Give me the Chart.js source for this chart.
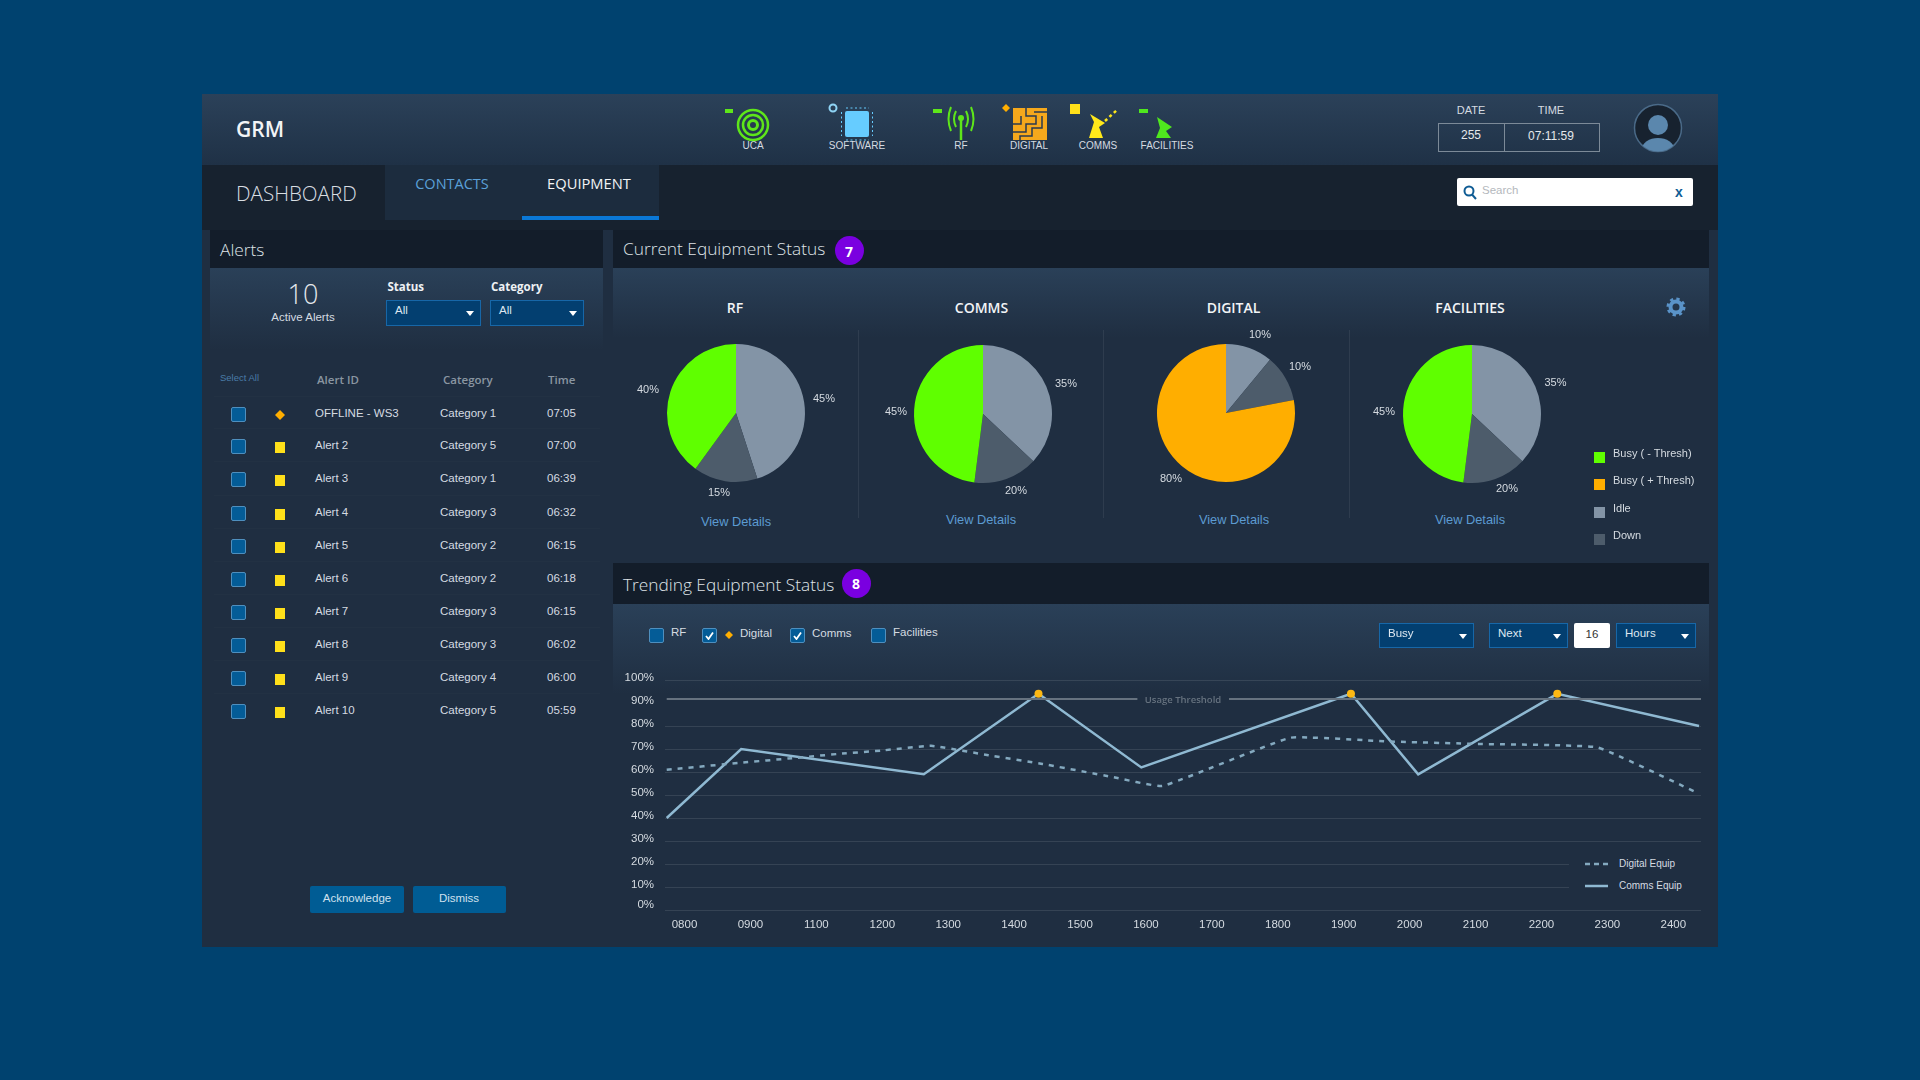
<!DOCTYPE html>
<html>
<head>
<meta charset="utf-8">
<title>GRM Dashboard</title>
<script src="https://cdn.jsdelivr.net/npm/chart.js@4"></script>
<style>
 html, body { margin: 0; width: 1920px; height: 1080px; overflow: hidden; background: #00426f; }
 #stage { position: absolute; left: 0; top: 0; width: 1920px; height: 1080px; font-family: "Liberation Sans", sans-serif; color: #d5dbe1; }
 #stage div, #stage canvas, #stage svg { position: absolute; }
 .t { white-space: nowrap; }
</style>
</head>
<body>
<div id="stage"></div>
<script>
 //Pies, share of each wedge as drawn, clockwise from the top
 const pieNames = ["RF", "COMMS", "DIGITAL", "FACILITIES"];
 const rfSlices = [45, 15, 40];
 const commsSlices = [37, 15, 48];
 const digitalSlices = [11, 11, 78];
 const facilitiesSlices = [37, 15, 48];
 // what the picture prints next to them (not the same as the wedges)
 const rfLabels = ["45%", "15%", "40%"];
 const commsLabels = ["35%", "20%", "45%"];
 const digitalLabels = ["10%", "10%", "80%"];
 const facilitiesLabels = ["35%", "20%", "45%"];
 const legendNames = ["Busy ( - Thresh)", "Busy ( + Thresh)", "Idle", "Down"];

 //Trend, hours are positions on the tick list below
 const hourLabels = ["0800", "0900", "1100", "1200", "1300", "1400", "1500", "1600", "1700", "1800", "1900", "2000", "2100", "2200", "2300", "2400"];
 const commsHours = [-0.27, 0.86, 3.63, 5.37, 6.93, 10.11, 11.13, 13.24, 15.39];
 const commsValues = [40, 70, 59, 94, 62, 94, 59, 94, 80];
 const digitalHours = [-0.27, 0.85, 1.63, 2.39, 2.98, 3.74, 4.61, 5.43, 6.46, 7.25, 9.19, 10.65, 12.03, 13.85, 15.33];
 const digitalValues = [61, 64, 66, 68, 69.3, 71.4, 67.3, 63.5, 58, 53.9, 74.9, 73.3, 72.2, 70.7, 51.4];
 const thresholdHours = [-0.27, 6.87, 6.88, 8.26, 15.42];
 const thresholdValues = [91.7, 91.7, null, 91.7, 91.7];

 //Alerts table
 const alertIds = ["OFFLINE - WS3", "Alert 2", "Alert 3", "Alert 4", "Alert 5", "Alert 6", "Alert 7", "Alert 8", "Alert 9", "Alert 10"];
 const alertCategories = ["Category 1", "Category 5", "Category 1", "Category 3", "Category 2", "Category 2", "Category 3", "Category 3", "Category 4", "Category 5"];
 const alertTimes = ["07:05", "07:00", "06:39", "06:32", "06:15", "06:18", "06:15", "06:02", "06:00", "05:59"];

 const GREY = "#8394a6", DARK = "#4d5c6b", GREEN = "#5fff00", ORANGE = "#ffae00";
 const OPEN = '"Open Sans", sans-serif';
 const stage = document.getElementById("stage");

 function box(x1, y1, x2, y2, css) {
     const d = document.createElement("div");
     d.style.cssText = `left:${x1}px;top:${y1}px;width:${x2 - x1}px;height:${y2 - y1}px;box-sizing:border-box;` + (css || "");
     stage.appendChild(d);
     return d;
 }
 // y is the middle of the text, anchor 0 = left, .5 = centre
 function put(txt, x, y, size, color, anchor, css) {
     const d = document.createElement("div");
     d.className = "t";
     d.textContent = txt;
     d.style.cssText = `left:${x}px;top:${y}px;font-size:${size}px;color:${color};transform:translate(${-(anchor || 0) * 100}%,-50%);` + (css || "");
     stage.appendChild(d);
     return d;
 }
 function svg(x, y, w, h, inner) {
     const wrap = document.createElement("div");
     wrap.style.cssText = `left:${x}px;top:${y}px;width:${w}px;height:${h}px;`;
     wrap.innerHTML = `<svg width="${w}" height="${h}" viewBox="0 0 ${w} ${h}" style="left:0;top:0">${inner}</svg>`;
     stage.appendChild(wrap);
 }
 function dropdown(x1, y1, x2, y2, txt, arrowX) {
     box(x1, y1, x2, y2, "background:#033f70;border:1px solid #1767a8;");
     put(txt, x1 + 9, y1 + 10, 11.5, "#dfe8f0");
     svg(arrowX - 4, y1 + 11, 8, 5, '<path d="M0 0H8L4 5Z" fill="#fff"/>');
 }
 function checkbox(x, y, checked) {
     box(x, y, x + 15, y + 15, "background:#045c97;border:1px solid #4f8fbe;border-radius:2px;");
     if (checked) svg(x + 3, y + 3, 9, 9, '<path d="M1 5L3.5 8L8 1.5" stroke="#fff" stroke-width="1.8" fill="none"/>');
 }
 const diamond = (cx, cy, r, c) => svg(cx - r, cy - r, 2 * r, 2 * r, `<path d="M${r} 0L${2 * r} ${r}L${r} ${2 * r}L0 ${r}Z" fill="${c}"/>`);

 // ---- frame ----
 box(202, 94, 1718, 947, "background:#1f2e41;");
 box(202, 94, 1718, 165, "background:linear-gradient(#2b4159,#1f3146);");
 box(202, 165, 1718, 230, "background:#17222f;");
 box(385, 165, 659, 220, "background:#1c2c3e;");
 box(522, 216, 659, 220, "background:#0a78d6;");
 put("GRM", 236, 129, 21, "#f2f4f6", 0, `font-family:${OPEN};font-weight:600;`);
 put("DASHBOARD", 236, 193, 20.6, "#d9dee3", 0, `font-family:${OPEN};font-weight:300;`);
 put("CONTACTS", 452, 182.500, 14.5, "#5ba0d8", .5, `font-family:${OPEN};`);
 put("EQUIPMENT", 589, 182.500, 14.7, "#f2f4f6", .5, `font-family:${OPEN};`);

 // ---- status icons ----
 const iconNames = ["UCA", "SOFTWARE", "RF", "DIGITAL", "COMMS", "FACILITIES"];
 const iconX = [753, 857, 961, 1029, 1098, 1167];
 iconNames.forEach((n, i) => put(n, iconX[i], 145, 10, "#d5dbe1", .5));
 svg(735, 106, 36, 36, '<g fill="none" stroke="#5ee61a"><circle cx="18" cy="19" r="15" stroke-width="2.5"/><circle cx="18" cy="19" r="10" stroke-width="2.5"/><circle cx="18" cy="19" r="4.5" stroke-width="3"/></g>');
 box(725, 109, 733, 113, "background:#5ee61a;");
 svg(840, 106, 34, 36, '<rect x="5" y="5" width="24" height="26" rx="2" fill="#66ccff"/><g stroke="#66ccff" stroke-dasharray="2 2.5"><path d="M6 2H29M6 34H29M1.500 6V30M32.500 6V30"/></g>');
 svg(828, 103, 10, 10, '<circle cx="5" cy="5" r="3.500" fill="none" stroke="#8fd4f5" stroke-width="2"/>');
 svg(947, 106, 28, 36, '<g fill="none" stroke="#5ee61a" stroke-width="2"><path d="M14 14V34" stroke-width="2.500"/><path d="M9 5Q5 13 9 21M19 5Q23 13 19 21M4 1Q-1 13 4 25M24 1Q29 13 24 25"/></g><circle cx="14" cy="12" r="3" fill="#5ee61a"/>');
 box(933, 109, 942, 113, "background:#5ee61a;");
 diamond(1006, 108, 4, ORANGE);
 svg(1012, 107, 36, 34, '<path d="M1 1H35V33H1Z" fill="#f5a81c"/><g fill="none" stroke="#2a3a4f" stroke-width="1.500"><path d="M14 1V9H24V17H14V25H1M22 5H35M30 9V21H20V29H8V33M1 17H9V9"/></g>');
 svg(1085, 108, 34, 32, '<path d="M4 30L9 14L5 6L20 15L14 19L18 30Z" fill="#ffe81a"/><path d="M20 13L32 2" stroke="#ffe81a" stroke-width="2.500" stroke-dasharray="3 3"/>');
 box(1070, 104, 1080, 114, "background:#ffe01a;");
 svg(1154, 116, 26, 24, '<path d="M2 22L6 12L3 1L18 11L12 15L17 22Z" fill="#4fe81e"/>');
 box(1139, 109, 1148, 113, "background:#4fe81e;");

 // ---- date, time, avatar, search ----
 put("DATE", 1471, 110, 11, "#d5dbe1", .5);
 put("TIME", 1551, 110, 11, "#d5dbe1", .5);
 box(1438, 123, 1505, 152, "border:1px solid #7c8a98;");
 box(1504, 123, 1600, 152, "border:1px solid #7c8a98;");
 put("255", 1471, 134.500, 12, "#e4e8ec", .5);
 put("07:11:59", 1551, 135.500, 12, "#e4e8ec", .5);
 svg(1633, 103, 50, 50, '<defs><clipPath id="av"><circle cx="25" cy="25" r="23.500"/></clipPath></defs><circle cx="25" cy="25" r="23.500" fill="#17222f" stroke="#4a6a88" stroke-width="1.500"/><g clip-path="url(#av)" fill="#5b87ad"><circle cx="25" cy="22" r="10"/><ellipse cx="25" cy="46" rx="16" ry="11"/></g>');
 box(1457, 178, 1693, 206, "background:#fff;border-radius:2px;");
 svg(1463, 185, 14, 15, '<circle cx="6" cy="6" r="4.500" fill="none" stroke="#0f5c94" stroke-width="2"/><path d="M9 9.500L13 14" stroke="#0f5c94" stroke-width="2"/>');
 put("Search", 1482, 190, 11.5, "#b4b8bd");
 put("x", 1679, 192, 14, "#0f5c94", .5, "font-weight:700;");

 // ---- alerts panel ----
 box(210, 230, 603, 268, "background:#131d2a;");
 box(210, 268, 603, 350, "background:linear-gradient(#2a4058,#1f2e41);");
 put("Alerts", 220, 248.500, 17.3, "#dfe3e7", 0, `font-family:${OPEN};font-weight:300;`);
 put("10", 303, 293, 27, "#e4e8ec", .5, `font-family:${OPEN};font-weight:300;`);
 put("Active Alerts", 303, 317, 11.5, "#d5dbe1", .5);
 put("Status", 387.500, 286, 11.5, "#eef1f4", 0, `font-family:${OPEN};font-weight:700;`);
 put("Category", 491, 286, 11.5, "#eef1f4", 0, `font-family:${OPEN};font-weight:700;`);
 dropdown(386, 300, 481, 326, "All", 470);
 dropdown(490, 300, 584, 326, "All", 573);
 put("Select All", 220, 377, 9.5, "#4a7ca8");
 const headCss = `font-family:${OPEN};font-weight:600;`;
 put("Alert ID", 317, 379, 11.5, "#8a96a2", 0, headCss);
 put("Category", 443, 379, 11.5, "#8a96a2", 0, headCss);
 put("Time", 548, 379, 11.5, "#8a96a2", 0, headCss);
 const rowY = [412.500, 445, 478, 511.500, 544.500, 577.500, 611, 644, 677, 710];
 alertIds.forEach((id, i) => {
     const y = rowY[i];
     box(214, y - 17, 600, y - 16, "background:rgba(255,255,255,.015);");
     checkbox(231, y - 6, false);
     if (i === 0) diamond(280, y + 2, 5, ORANGE);
     else box(275, y - 3, 285, y + 8, "background:#ffe01a;");
     put(id, 315, y, 11.5, "#d5dbe1");
     put(alertCategories[i], 440, y, 11.5, "#d5dbe1");
     put(alertTimes[i], 547, y, 11.5, "#d5dbe1");
 });
 box(310, 886, 404, 913, "background:#005c94;border-radius:2px;");
 box(413, 886, 506, 913, "background:#005c94;border-radius:2px;");
 put("Acknowledge", 357, 898, 11.5, "#cfe0ee", .5);
 put("Dismiss", 459, 898, 11.5, "#cfe0ee", .5);

 // ---- current status panel ----
 box(613, 230, 1709, 268, "background:#131d2a;");
 box(613, 268, 1709, 563, "background:linear-gradient(#2a4058,#1f2e41 70px);");
 box(613, 563, 1709, 604, "background:#131d2a;");
 box(613, 604, 1709, 947, "background:linear-gradient(#2a4058,#1f2e41 90px);");
 put("Current Equipment Status", 623, 248, 17.3, "#dfe3e7", 0, `font-family:${OPEN};font-weight:300;`);
 put("Trending Equipment Status", 623, 583.500, 17.3, "#dfe3e7", 0, `font-family:${OPEN};font-weight:300;`);
 [[849, 250.500, "7"], [856, 583, "8"]].forEach(b => {
     box(b[0] - 14.500, b[1] - 14.500, b[0] + 14.500, b[1] + 14.500, "background:#7a00e0;border-radius:50%;");
     put(b[2], b[0], b[1], 14, "#fff", .5, `font-family:${OPEN};font-weight:700;`);
 });
 [858, 1103, 1349].forEach(x => box(x, 330, x + 1, 518, "background:rgba(255,255,255,.07);"));
 svg(1666, 297, 20, 20, '<g fill="none" stroke="#5a93c8"><circle cx="10" cy="10" r="5.500" stroke-width="4"/><circle cx="10" cy="10" r="8" stroke-width="3" stroke-dasharray="3.200 3.100"/></g>');

 const pieX = [735.5, 983, 1225.500, 1472];
 const pieY = [412.7, 414.3, 413.3, 414];
 const titleX = [735, 981.500, 1233.500, 1470];
 const detailsX = [736, 981, 1234, 1470];
 const detailsY = [521, 519, 519, 519];
 const pieSlices = [rfSlices, commsSlices, digitalSlices, facilitiesSlices];
 const pieColors = [[GREY, DARK, GREEN], [GREY, DARK, GREEN], [GREY, DARK, ORANGE], [GREY, DARK, GREEN]];
 pieNames.forEach((name, i) => {
     put(name, titleX[i], 306.500, 14, "#f2f4f6", .5, `font-family:${OPEN};font-weight:600;`);
     put("View Details", detailsX[i], detailsY[i], 12.8, "#5c9bd1", .5);
     const cv = document.createElement("canvas");
     cv.width = 160; cv.height = 160;
     cv.style.cssText = `left:${pieX[i] - 80}px;top:${pieY[i] - 80}px;width:160px;height:160px;`;
     stage.appendChild(cv);
     new Chart(cv, {
         type: "pie",
         data: { labels: ["Idle", "Down", "Busy"], datasets: [{ data: pieSlices[i], backgroundColor: pieColors[i], borderWidth: 0, radius: 69 }] },
         options: { responsive: false, animation: false, plugins: { legend: { display: false }, tooltip: { enabled: false } } }
     });
 });
 const pctLabels = rfLabels.concat(commsLabels, digitalLabels, facilitiesLabels);
 const pctX = [824, 719, 648, 1066, 1016, 896, 1260, 1300, 1171, 1555.500, 1507, 1384];
 const pctY = [398, 492, 389, 383, 490, 411, 334, 366, 478, 382, 488, 411];
 pctLabels.forEach((p, i) => put(p, pctX[i], pctY[i], 11, "#d5dbe1", .5));
 const legendColors = [GREEN, ORANGE, GREY, DARK];
 const legendY = [453, 480, 508, 535];
 legendNames.forEach((n, i) => {
     box(1594, legendY[i] - 1, 1605, legendY[i] + 10, `background:${legendColors[i]};`);
     put(n, 1613, legendY[i], 11, "#d5dbe1");
 });

 // ---- trend controls ----
 checkbox(649, 628, false); put("RF", 671, 632, 11.500, "#d5dbe1");
 checkbox(702, 628, true); diamond(729, 635, 4, ORANGE); put("Digital", 740, 633, 11.500, "#d5dbe1");
 checkbox(790, 628, true); put("Comms", 812, 633, 11.500, "#d5dbe1");
 checkbox(871, 628, false); put("Facilities", 893, 632, 11.500, "#d5dbe1");
 dropdown(1379, 623, 1474, 648, "Busy", 1463);
 dropdown(1489, 623, 1568, 648, "Next", 1557);
 box(1574, 623, 1610, 648, "background:#fff;border-radius:2px;");
 put("16", 1592, 634, 11.500, "#333", .5);
 dropdown(1616, 623, 1696, 648, "Hours", 1685);

 // ---- trend chart ----
 const cv = document.createElement("canvas");
 cv.width = 1100; cv.height = 285;
 cv.style.cssText = "left:610px;top:660px;width:1100px;height:285px;";
 stage.appendChild(cv);
 const toPoints = (xs, ys) => xs.map((x, i) => ({ x: x, y: ys[i] }));
 const LINE = "#8fb9d2";
 new Chart(cv, {
     type: "line",
     data: {
         datasets: [{
             label: "Usage Threshold",
             data: toPoints(thresholdHours, thresholdValues),
             borderColor: "#66727f",
             borderWidth: 2,
             pointRadius: 0,
             spanGaps: false
         }, {
             label: "Digital Equip",
             data: toPoints(digitalHours, digitalValues),
             borderColor: "#84a9bf",
             borderWidth: 2.5,
             borderDash: [5, 6],
             pointRadius: 0,
             tension: 0.1
         }, {
             label: "Comms Equip",
             data: toPoints(commsHours, commsValues),
             borderColor: LINE,
             borderWidth: 2.5,
             // points over the threshold get the orange dot
             pointRadius: ctx => ctx.raw && ctx.raw.y > 91.7 ? 4 : 0,
             pointBackgroundColor: "#fdb813",
             pointBorderWidth: 0
         }]
     },
     options: {
         responsive: false,
         animation: false,
         layout: { padding: { top: 20, right: 9, left: 0, bottom: 0 } },
         plugins: { legend: { display: false }, tooltip: { enabled: false } },
         scales: {
             x: {
                 type: "linear",
                 min: -0.296,
                 max: 15.42,
                 afterFit: s => { s.height = 35; },
                 grid: { display: false },
                 border: { display: false },
                 ticks: {
                     stepSize: 1,
                     includeBounds: false,
                     autoSkip: false,
                     maxRotation: 0,
                     padding: 0,
                     color: "#d5dbe1",
                     font: { family: "Liberation Sans", size: 11.5 },
                     callback: v => hourLabels[v]
                 }
             },
             y: {
                 min: 0,
                 max: 100,
                 afterFit: s => { s.width = 55; },
                 border: { display: false },
                 grid: {
                     drawTicks: false,
                     lineWidth: 1,
                     color: ctx => ctx.tick && ctx.tick.value === 90 ? "transparent" : "rgba(255,255,255,.1)"
                 },
                 ticks: {
                     stepSize: 10,
                     autoSkip: false,
                     padding: 11,
                     color: "#d5dbe1",
                     // the labels sit above their grid lines: an empty second line lifts them by half the line height
                     font: ctx => ({ family: "Liberation Sans", size: 11.5, lineHeight: ctx.tick && ctx.tick.value === 0 ? "11px" : "5px" }),
                     callback: v => [v + "%", ""]
                 }
             }
         }
     }
 });

 put("Usage Threshold", 1183, 699, 9.5, "#66727f", .5, `font-family:${OPEN};font-weight:600;`);
 box(1569, 855, 1703, 896, "background:#1f2e41;");
 svg(1585, 862, 23, 4, '<path d="M0 2H23" stroke="#84a9bf" stroke-width="2.500" stroke-dasharray="5 4"/>');
 svg(1585, 884, 23, 4, `<path d="M0 2H23" stroke="${LINE}" stroke-width="2.500"/>`);
 put("Digital Equip", 1619, 862.500, 10, "#d5dbe1");
 put("Comms Equip", 1619, 884.500, 10, "#d5dbe1");
</script>
</body>
</html>
